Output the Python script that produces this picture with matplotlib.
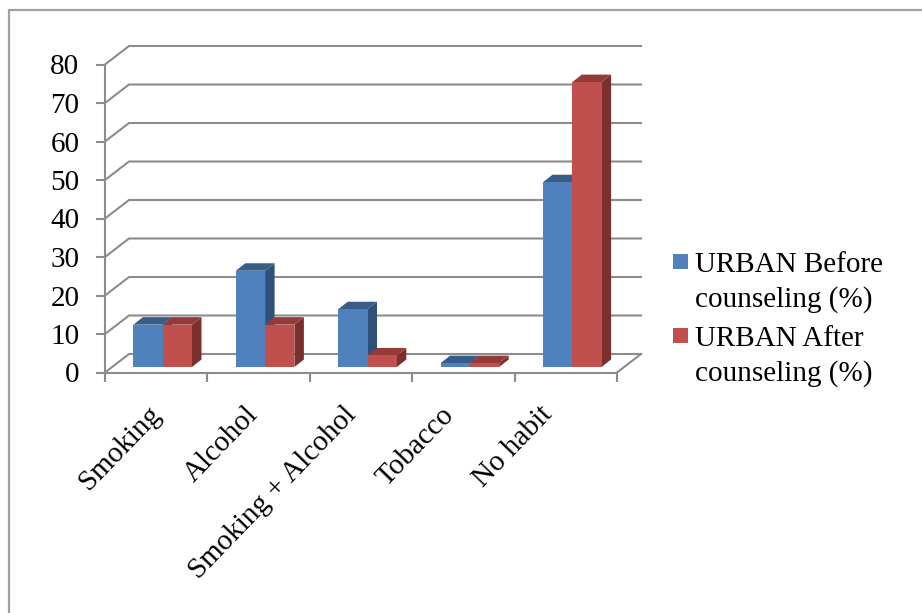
import matplotlib.pyplot as plt
from matplotlib.lines import Line2D
from matplotlib.patches import Polygon, Rectangle
from matplotlib.transforms import ScaledTranslation

categories = ["Smoking", "Alcohol", "Smoking + Alcohol", "Tobacco", "No habit"]
before = [11, 25, 15, 1, 48]
after = [11, 11, 3, 1, 74]
before_label = "URBAN Before\ncounseling (%)"
after_label = "URBAN After\ncounseling (%)"
y_ticks = [0, 10, 20, 30, 40, 50, 60, 70, 80]

W, H = 922, 613
GRID = "#8c8c8c"
BLUE = "#4f81bd"
RED = "#c0504d"
px_x = 512 / 5  # pixels per category
px_y = 308 / 80  # pixels per percent

plt.rcParams["font.family"] = ["Liberation Serif", "DejaVu Serif"]

fig = plt.figure(figsize=(W / 100, H / 100), dpi=100)
ax = fig.add_axes([105 / W, 1 - 372.5 / H, 512 / W, 308 / H])
ax.set_xlim(0, 5)
ax.set_ylim(0, 80)
ax.patch.set_visible(False)

# outer frame of the picture
frame = [[8.5 / W, 8.5 / W, 1], [0, 1 - 10 / H, 1 - 10 / H]]
fig.add_artist(Line2D(frame[0], frame[1], color="#a0a0a0", lw=1.6))

# back wall and floor, sheared from the front axes
wall_dx = 24 / px_x
wall_dy = 18.5 / px_y
for v in y_ticks:
    ax.plot([0, wall_dx, 5 + wall_dx], [v, v + wall_dy, v + wall_dy],
            color=GRID, lw=1.5, clip_on=False, zorder=1, solid_joinstyle="miter")
ax.plot([5, 5 + wall_dx], [0, wall_dy], color=GRID, lw=1.5, clip_on=False, zorder=1)


def draw_bars(centers, values, width, front, side, top):
    base = 5.5 / px_y
    depth_x = 9.5 / px_x
    depth_y = 7.5 / px_y
    ax.bar(centers, values, width, bottom=base, color=front, zorder=4, clip_on=False)
    for c, v in zip(centers, values):
        left = c - width / 2
        right = c + width / 2
        high = base + v
        ax.add_patch(Polygon(
            [(right, base), (right + depth_x, base + depth_y),
             (right + depth_x, high + depth_y), (right, high)],
            facecolor=side, edgecolor="none", zorder=3, clip_on=False))
        ax.add_patch(Polygon(
            [(left, high), (left + depth_x, high + depth_y),
             (right + depth_x, high + depth_y), (right, high)],
            facecolor=top, edgecolor="none", zorder=3, clip_on=False))


bar_w = 29.3 / px_x
offset = 6.5 / px_x
mids = [i + 0.5 + offset for i in range(len(categories))]
draw_bars([m - bar_w / 2 for m in mids], before, bar_w, BLUE, "#2f5077", "#385d8a")
draw_bars([m + bar_w / 2 for m in mids], after, bar_w, RED, "#7b302e", "#943a38")

for name in ["top", "right"]:
    ax.spines[name].set_visible(False)
for name in ["left", "bottom"]:
    ax.spines[name].set_color(GRID)
    ax.spines[name].set_linewidth(1.5)
    ax.spines[name].set_zorder(2)

ax.set_yticks(y_ticks)
ax.tick_params(axis="y", length=6.5, width=1.5, color=GRID, labelsize=21, pad=12)
ax.set_xticks(range(6))
ax.set_xticklabels([])
ax.tick_params(axis="x", which="major", length=6.5, width=1.5, color=GRID)
ax.set_xticks([i + 0.5 for i in range(len(categories))], minor=True)
ax.set_xticklabels(categories, minor=True, rotation=46, ha="right",
                   rotation_mode="anchor", fontsize=21)
ax.tick_params(axis="x", which="minor", length=0, pad=21)
# the labels sit a little closer together than the categories
for i, label in enumerate(ax.get_xticklabels(minor=True)):
    nudge = ScaledTranslation((-9 - 4.5 * i) / 100, 0, fig.dpi_scale_trans)
    label.set_transform(label.get_transform() + nudge)

# legend: swatch sits beside the first line of its label, so placed by hand
for top_px, color, label in [(254, BLUE, before_label), (328, RED, after_label)]:
    fig.add_artist(Rectangle((673 / W, 1 - (top_px + 15) / H), 15 / W, 15 / H,
                             facecolor=color, edgecolor="none"))
    fig.text(695 / W, 1 - (top_px - 1.5) / H, label, fontsize=21, va="top", ha="left",
             linespacing=1.36)

fig.savefig("out.png", dpi=100)
